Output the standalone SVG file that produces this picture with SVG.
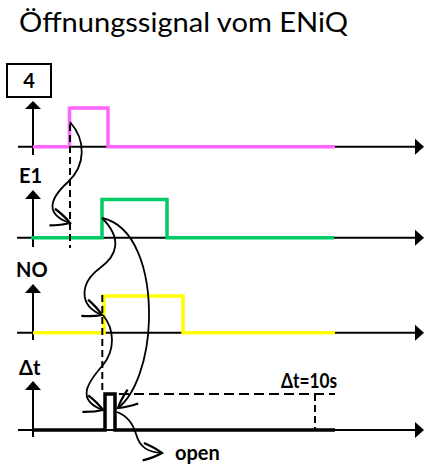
<svg xmlns="http://www.w3.org/2000/svg" width="427" height="469" viewBox="0 0 427 469">
<style>
.t{font-family:Lato,"Open Sans","Liberation Sans",sans-serif;fill:#000}
.b{font-weight:bold;font-size:20px}
.ax{stroke:#000;stroke-width:2;fill:none}
.sig{stroke-width:3.5;fill:none;stroke-linejoin:miter}
.dv{stroke:#000;stroke-width:2;fill:none;stroke-dasharray:7 4}
.dh{stroke:#000;stroke-width:2;fill:none;stroke-dasharray:10 5}
.cv{stroke:#000;stroke-width:1.8;fill:none;marker-end:url(#open)}
</style>
<defs>
<marker id="open" markerUnits="userSpaceOnUse" markerWidth="30" markerHeight="30" refX="0" refY="0" viewBox="-20 -12 24 24" orient="auto" overflow="visible">
<path d="M-15,-7 Q-6,-4 0,0 Q-6,4 -15,7" fill="none" stroke="#000" stroke-width="1.8"/>
</marker>
</defs>
<text class="t" x="19" y="32" font-size="27" textLength="329" lengthAdjust="spacingAndGlyphs">Öffnungssignal vom ENiQ</text>

<g id="label-4">
<rect x="7" y="64" width="44" height="33" fill="#fff" stroke="#000" stroke-width="2"/>
<text class="t b" x="29" y="88" text-anchor="middle" font-size="18">4</text>
</g>

<g id="axis-4">
<path class="ax" d="M33,155 V108"/>
<path d="M25,109 L33,101 L41,109 Z"/>
<path class="ax" d="M18,146.7 H416"/>
<path d="M415,138.7 L424,146.7 L415,154.7 Z"/>
<path class="sig" stroke="#FF66FF" d="M33,146.7 H69.5 V108 H108 V146.7 H335"/>
</g>

<g id="axis-E1">
<text class="t b" x="19" y="183">E1</text>
<path class="ax" d="M33,247 V197"/>
<path d="M25,199 L33,190 L41,199 Z"/>
<path class="ax" d="M17,237.7 H416"/>
<path d="M415,229.7 L424,237.7 L415,245.7 Z"/>
<path class="sig" stroke="#00CC66" d="M31,237.7 H102 V199.5 H167 V237.7 H334"/>
</g>

<g id="axis-NO">
<text class="t b" x="16" y="277">NO</text>
<path class="ax" d="M33,340 V291"/>
<path d="M25,293 L33,284 L41,293 Z"/>
<path class="ax" d="M17,332.7 H416"/>
<path d="M415,324.7 L424,332.7 L415,340.7 Z"/>
<path class="sig" stroke="#FFFF00" d="M33,332.7 H104 V296 H183 V332.7 H335"/>
</g>

<g id="axis-dt">
<text class="t b" x="19" y="375">Δt</text>
<path class="ax" d="M33,437 V388"/>
<path d="M25,390 L33,381 L41,390 Z"/>
<path class="ax" d="M18,430 H416"/>
<path d="M415,422 L424,430 L415,438 Z"/>
<path class="sig" stroke="#000" d="M33,430 H105 V394 H115 V430 H335"/>
<path class="dh" d="M119,394 H335"/>
<path class="dv" d="M315,394 V430"/>
<text class="t b" x="281" y="387.5" font-size="17.5" textLength="56" lengthAdjust="spacingAndGlyphs">Δt=10s</text>
</g>

<g id="open-label">
<text class="t b" x="175" y="460" font-size="19">open</text>
</g>

<g id="connectors">
<path class="dv" d="M70,124 V248"/>
<path class="dv" d="M102.3,295 V393"/>
<path class="cv" d="M70,122 C86,140 86,165 68,182 C48,200 46,215 70,223"/>
<path class="cv" d="M102,218 C122,238 118,255 100,268 C80,283 78,305 102,315"/>
<path class="cv" d="M102,218 C135,225 150,270 149,320 C148,360 135,395 118,408"/>
<path class="cv" d="M103,315 C115,330 115,350 103,365 C88,382 75,400 103,410"/>
<path class="cv" d="M117,412 C128,416 133,424 136,434 C140,448 148,452 162,453"/>
</g>
</svg>
